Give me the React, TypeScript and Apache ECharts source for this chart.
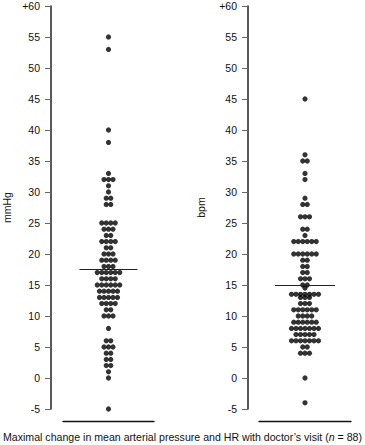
import React, { useEffect, useRef } from "react";
import * as echarts from "echarts";

// Left panel: mean arterial pressure change (mmHg) — value rows and dot counts per row
const mapValues = [55, 53, 40, 38, 33, 32, 31, 30, 29, 28, 25, 24, 23, 22, 21, 20, 19, 18, 17, 16, 15, 14, 13, 12, 11, 10, 8, 6, 5, 4, 3, 2, 1, 0, -5];
const mapCounts = [1, 1, 1, 1, 1, 3, 1, 1, 2, 2, 4, 3, 2, 4, 2, 3, 4, 3, 6, 4, 6, 5, 5, 4, 2, 3, 1, 2, 3, 2, 2, 2, 1, 1, 1];
const mapMean = 17.5;

// Right panel: heart rate change (bpm)
const hrValues = [45, 36, 35, 33, 32, 29, 28, 26, 24, 23, 22, 20, 19, 18, 17, 16, 15, 14.5, 13.5, 13, 12, 11, 10, 9, 8, 7, 6, 5, 4, 0, -4];
const hrCounts = [1, 1, 2, 1, 1, 1, 2, 3, 2, 1, 6, 6, 2, 2, 2, 3, 2, 1, 7, 3, 3, 6, 4, 6, 7, 5, 7, 2, 3, 1, 1];
const hrMean = 15;

const yMin = -5;
const yMax = 60;
const yInterval = 5;
const unitNames = ["mmHg", "bpm"];
const footnoteText = "Maximal change in mean arterial pressure and HR with doctor’s visit (";
const footnoteN = 88;

const FONT = "Liberation Sans, Arial, Helvetica, sans-serif";
const DOT_SPACING = 4.5;

function swarm(values: number[], counts: number[]) {
  const out: number[][] = [];
  values.forEach((v, idx) => {
    const n = counts[idx];
    for (let i = 0; i < n; i++) {
      out.push([(i - (n - 1) / 2) * DOT_SPACING, v]);
    }
  });
  return out;
}

function yAxisFor(gridIndex: number, name: string, offset: number, nameGap: number) {
  return {
    type: "value",
    gridIndex,
    min: yMin,
    max: yMax,
    interval: yInterval,
    offset,
    name,
    nameLocation: "middle",
    nameRotate: 90,
    nameGap,
    nameTextStyle: { fontSize: 10.5, color: "#111", fontFamily: FONT },
    axisLine: { show: true, onZero: false, lineStyle: { color: "#222", width: 1.5 } },
    axisTick: { show: true, inside: false, length: 6, lineStyle: { color: "#666", width: 1 } },
    axisLabel: {
      fontSize: 10.5,
      color: "#111",
      fontFamily: FONT,
      margin: 11,
      formatter: (v: number) => (v === 60 ? "+60" : String(v)),
    },
    splitLine: { show: false },
  };
}

function xAxisFor(gridIndex: number, half: number) {
  return {
    type: "value",
    gridIndex,
    min: -half,
    max: half,
    offset: 12,
    axisLine: { show: true, onZero: false, lineStyle: { color: "#111", width: 1.3 } },
    axisTick: { show: false },
    axisLabel: { show: false },
    splitLine: { show: false },
  };
}

function seriesFor(idx: number, values: number[], counts: number[], mean: number, half: number) {
  return {
    type: "scatter",
    xAxisIndex: idx,
    yAxisIndex: idx,
    symbol: "circle",
    symbolSize: 5.2,
    itemStyle: { color: "#000" },
    data: swarm(values, counts),
    markLine: {
      silent: true,
      symbol: ["none", "none"],
      label: { show: false },
      lineStyle: { color: "#222", width: 1, type: "solid" },
      data: [[{ coord: [-half, mean] }, { coord: [half, mean] }]],
    },
  };
}

export default function App() {
  const ref = useRef<HTMLDivElement>(null);
  useEffect(() => {
    if (!ref.current) return;
    const chart = echarts.init(ref.current, null, { renderer: "svg" });
    chart.setOption({
      animation: false,
      backgroundColor: "#fff",
      textStyle: { fontFamily: FONT },
      title: {
        left: "center",
        top: 426,
        text: footnoteText + "{i|n} = " + footnoteN + ")",
        textStyle: {
          fontSize: 10.6,
          fontWeight: "normal",
          color: "#111",
          fontFamily: FONT,
          rich: { i: { fontStyle: "italic", fontSize: 10.6, color: "#111", fontFamily: FONT } },
        },
      },
      grid: [
        { left: 63, width: 91, top: 6, height: 403 },
        { left: 259, width: 92, top: 6, height: 403 },
      ],
      xAxis: [xAxisFor(0, 45.5), xAxisFor(1, 46)],
      yAxis: [yAxisFor(0, unitNames[0], 12, 39), yAxisFor(1, unitNames[1], 11, 42)],
      series: [
        seriesFor(0, mapValues, mapCounts, mapMean, 29),
        seriesFor(1, hrValues, hrCounts, hrMean, 30),
      ],
    });
    return () => chart.dispose();
  }, []);
  return (
    <div
      ref={ref}
      style={{ position: "fixed", left: 0, top: 0, width: 365, height: 445, background: "#fff" }}
    />
  );
}
